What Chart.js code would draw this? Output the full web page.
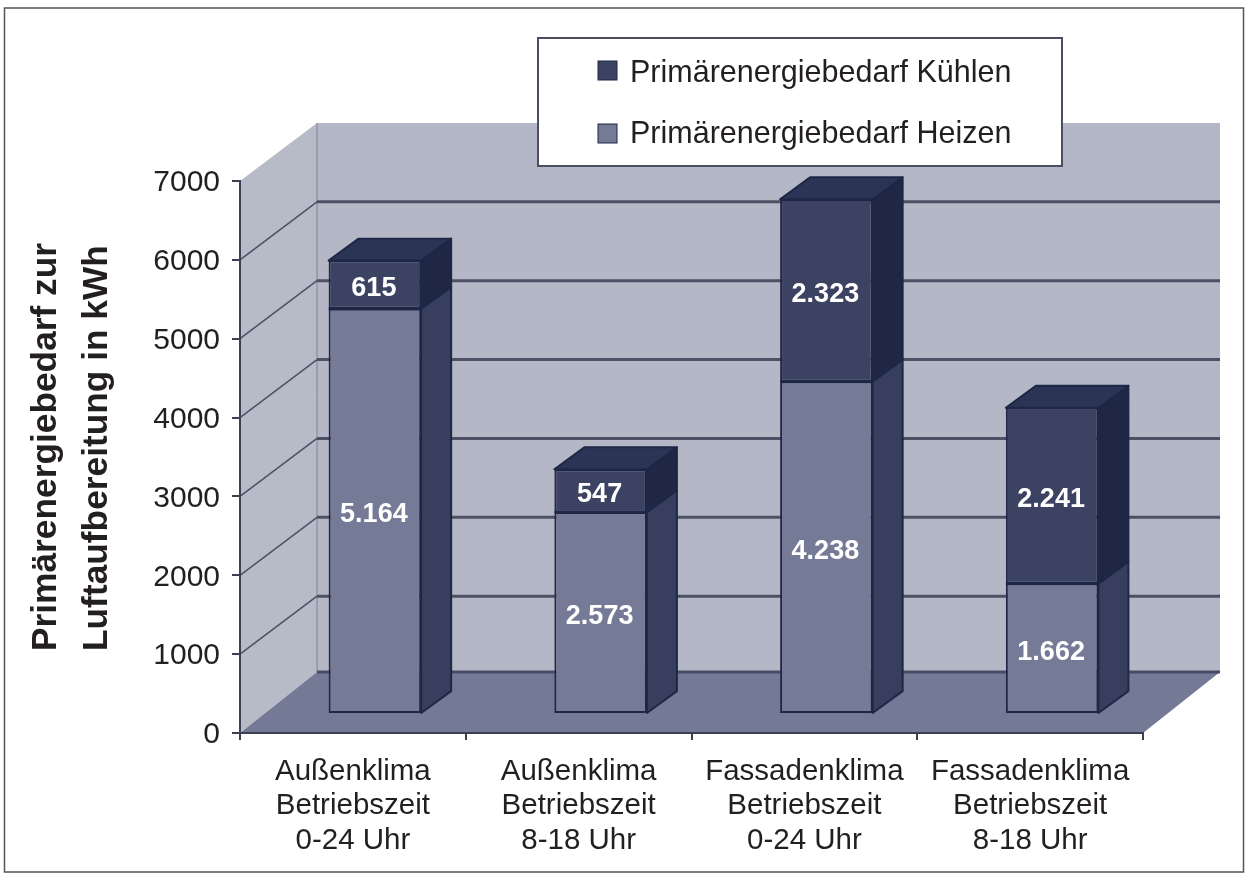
<!DOCTYPE html>
<html lang="de">
<head>
<meta charset="utf-8">
<title>Primärenergiebedarf</title>
<script src="https://cdn.jsdelivr.net/npm/chart.js@4"></script>
<style>
    html, body { margin: 0; padding: 0; background: #fff; }
    #wrap { width: 1248px; height: 880px; }
</style>
</head>
<body>
<div id="wrap"><canvas id="chart" width="1248" height="880"></canvas></div>
<script>
// Values
const categories = [
    ["Außenklima", "Betriebszeit", "0-24 Uhr"],
    ["Außenklima", "Betriebszeit", "8-18 Uhr"],
    ["Fassadenklima", "Betriebszeit", "0-24 Uhr"],
    ["Fassadenklima", "Betriebszeit", "8-18 Uhr"]
];
const heizen = [5164, 2573, 4238, 1662];
const kuehlen = [615, 547, 2323, 2241];
const heizenLabel = "Primärenergiebedarf Heizen";
const kuehlenLabel = "Primärenergiebedarf Kühlen";
const yTicks = [0, 1000, 2000, 3000, 4000, 5000, 6000, 7000];
const yTitle = ["Primärenergiebedarf zur", "Luftaufbereitung in kWh"];

const FONT = '"Liberation Sans", Arial, sans-serif';
const TEXT = "#231f20";
const LINE = "#1f2747";

// 3D look: depth of the room, and of the bars
const roomX = 77, roomY = -58, floorY = -61;
const barX = 22, barY = -19, barScale = 0.995;
const depthX = 30, depthY = -22;

const faces = {
    heizen: { front: "#757a97", side: "#383f5e", top: "#383f5e" },
    kuehlen: { front: "#3c4262", side: "#1f2744", top: "#2b3454" }
};

// Frame, walls, floor and grid lines, all from the chart's scales
const roomPlugin = {
    id: "room",
    beforeDraw(chart) {
        const ctx = chart.ctx;
        const { x, y } = chart.scales;
        const left = x.left, right = x.right;
        const bottom = y.getPixelForValue(0), top = y.getPixelForValue(7000);

        ctx.save();
        ctx.fillStyle = "#fff";
        ctx.fillRect(0, 0, chart.width, chart.height);
        ctx.strokeStyle = "#555";
        ctx.lineWidth = 1.5;
        ctx.strokeRect(4.5, 8, chart.width - 9, chart.height - 16);

        // back wall
        ctx.fillStyle = "#b4b8c6";
        ctx.fillRect(left + roomX, top + roomY, right - left, bottom + floorY - top - roomY);
        // side wall
        ctx.fillStyle = "#b7bbc8";
        ctx.strokeStyle = "#7d8297";
        ctx.lineWidth = 1;
        ctx.beginPath();
        ctx.moveTo(left, top);
        ctx.lineTo(left + roomX, top + roomY);
        ctx.lineTo(left + roomX, bottom + floorY);
        ctx.lineTo(left, bottom);
        ctx.closePath();
        ctx.fill();
        ctx.beginPath();
        ctx.moveTo(left + roomX, top + roomY);
        ctx.lineTo(left + roomX, bottom + floorY);
        ctx.stroke();

        // grid lines round the two walls
        ctx.strokeStyle = "#4c5064";
        yTicks.slice(1, -1).forEach(v => {
            const py = y.getPixelForValue(v);
            ctx.lineWidth = 1.5;
            ctx.beginPath();
            ctx.moveTo(left, py);
            ctx.lineTo(left + roomX, py + roomY);
            ctx.stroke();
            ctx.lineWidth = 3;
            ctx.beginPath();
            ctx.moveTo(left + roomX, py + roomY);
            ctx.lineTo(right + roomX, py + roomY);
            ctx.stroke();
        });

        // floor
        ctx.fillStyle = "#747a96";
        ctx.beginPath();
        ctx.moveTo(left, bottom);
        ctx.lineTo(left + roomX, bottom + floorY);
        ctx.lineTo(right + roomX, bottom + floorY);
        ctx.lineTo(right, bottom);
        ctx.closePath();
        ctx.fill();
        ctx.strokeStyle = "#474c66";
        ctx.lineWidth = 3;
        ctx.beginPath();
        ctx.moveTo(left + roomX, bottom + floorY);
        ctx.lineTo(right + roomX, bottom + floorY);
        ctx.stroke();
        ctx.restore();
    },
    beforeDatasetsDraw(chart) {
        // bars stand a little behind the front edge of the floor
        const base = chart.scales.y.getPixelForValue(0);
        chart.ctx.save();
        chart.ctx.translate(barX, barY + base * (1 - barScale));
        chart.ctx.scale(1, barScale);
    },
    afterDatasetsDraw(chart) {
        const ctx = chart.ctx;
        const names = ["heizen", "kuehlen"];
        chart.data.datasets.forEach((ds, i) => {
            const colours = faces[names[i]];
            chart.getDatasetMeta(i).data.forEach((bar, n) => {
                const l = bar.x - bar.width / 2;
                const r = bar.x + bar.width / 2;
                const t = bar.y, b = bar.base;
                ctx.lineWidth = 2;
                ctx.strokeStyle = LINE;
                ctx.lineJoin = "round";
                // side face
                ctx.fillStyle = colours.side;
                ctx.beginPath();
                ctx.moveTo(r, t);
                ctx.lineTo(r + depthX, t + depthY);
                ctx.lineTo(r + depthX, b + depthY);
                ctx.lineTo(r, b);
                ctx.closePath();
                ctx.fill();
                ctx.stroke();
                // dark seam on the front, hides the gap between the segments
                ctx.beginPath();
                ctx.moveTo(l, t);
                ctx.lineTo(r, t);
                ctx.stroke();
                // top face only on the upper segment
                if (i === chart.data.datasets.length - 1) {
                    ctx.fillStyle = colours.top;
                    ctx.beginPath();
                    ctx.moveTo(l, t);
                    ctx.lineTo(l + depthX, t + depthY);
                    ctx.lineTo(r + depthX, t + depthY);
                    ctx.lineTo(r, t);
                    ctx.closePath();
                    ctx.fill();
                    ctx.stroke();
                }
            });
        });
        ctx.restore();

        // white value labels, German thousands separator
        ctx.save();
        ctx.fillStyle = "#fff";
        ctx.font = "bold 27px " + FONT;
        ctx.textAlign = "center";
        ctx.textBaseline = "middle";
        const base = chart.scales.y.getPixelForValue(0);
        chart.data.datasets.forEach((ds, i) => {
            chart.getDatasetMeta(i).data.forEach((bar, n) => {
                const mid = (bar.y + bar.base) / 2;
                const py = base + barY + (mid - base) * barScale;
                ctx.fillText(ds.data[n].toLocaleString("de-DE"), bar.x + barX - 1, py + 4);
            });
        });
        ctx.restore();
    },
    afterDraw(chart) {
        const ctx = chart.ctx;
        ctx.save();
        // legend box over the back wall, upper series first
        ctx.fillStyle = "#fff";
        ctx.strokeStyle = "#4a4e60";
        ctx.lineWidth = 2;
        ctx.fillRect(538, 38, 524, 128);
        ctx.strokeRect(538, 38, 524, 128);
        ctx.font = "30.5px " + FONT;
        ctx.textBaseline = "middle";
        [[kuehlenLabel, faces.kuehlen.front, 70, 74], [heizenLabel, faces.heizen.front, 133, 135]].forEach(item => {
            ctx.fillStyle = item[1];
            ctx.strokeStyle = LINE;
            ctx.lineWidth = 1;
            ctx.fillRect(598, item[2] - 9, 19, 19);
            ctx.strokeRect(598, item[2] - 9, 19, 19);
            ctx.fillStyle = TEXT;
            ctx.fillText(item[0], 630, item[3]);
        });

        // rotated axis title, both lines start at the same height
        ctx.fillStyle = TEXT;
        ctx.font = "bold 35.3px " + FONT;
        ctx.textBaseline = "middle";
        ctx.textAlign = "left";
        yTitle.forEach((line, i) => {
            ctx.save();
            ctx.translate(46 + i * 51, 651);
            ctx.rotate(-Math.PI / 2);
            ctx.fillText(line, 0, 0);
            ctx.restore();
        });
        ctx.restore();
    }
};

new Chart(document.getElementById("chart").getContext("2d"), {
    type: "bar",
    data: {
        labels: categories,
        datasets: [
            { label: heizenLabel, data: heizen, backgroundColor: faces.heizen.front, borderColor: LINE, borderWidth: 2, borderSkipped: false },
            { label: kuehlenLabel, data: kuehlen, backgroundColor: faces.kuehlen.front, borderColor: LINE, borderWidth: 2, borderSkipped: false }
        ]
    },
    options: {
        responsive: false,
        animation: false,
        layout: { padding: { top: 181, right: 105, left: 0, bottom: 0 } },
        datasets: { bar: { categoryPercentage: 1, barPercentage: 0.41 } },
        plugins: { legend: { display: false }, tooltip: { enabled: false } },
        scales: {
            x: {
                stacked: true,
                afterFit(s) { s.height = 147; },
                grid: { drawOnChartArea: false, drawTicks: true, tickLength: 7, color: "#3b3f52", lineWidth: 2 },
                border: { display: true, color: "#3b3f52", width: 2 },
                ticks: {
                    color: TEXT,
                    padding: 14,
                    maxRotation: 0,
                    autoSkip: false,
                    font: { family: FONT, size: 29.5, lineHeight: 1.18 }
                }
            },
            y: {
                stacked: true,
                min: 0,
                max: 7000,
                afterFit(s) { s.width = 240; },
                grid: { drawOnChartArea: false, drawTicks: true, tickLength: 8, color: "#3b3f52", lineWidth: 2 },
                border: { display: true, color: "#3b3f52", width: 2 },
                afterBuildTicks(s) { s.ticks = yTicks.map(v => ({ value: v })); },
                ticks: {
                    color: TEXT,
                    padding: 12,
                    labelOffset: 2,
                    callback: v => String(v),
                    font: { family: FONT, size: 30 }
                }
            }
        }
    },
    plugins: [roomPlugin]
});
</script>
</body>
</html>
